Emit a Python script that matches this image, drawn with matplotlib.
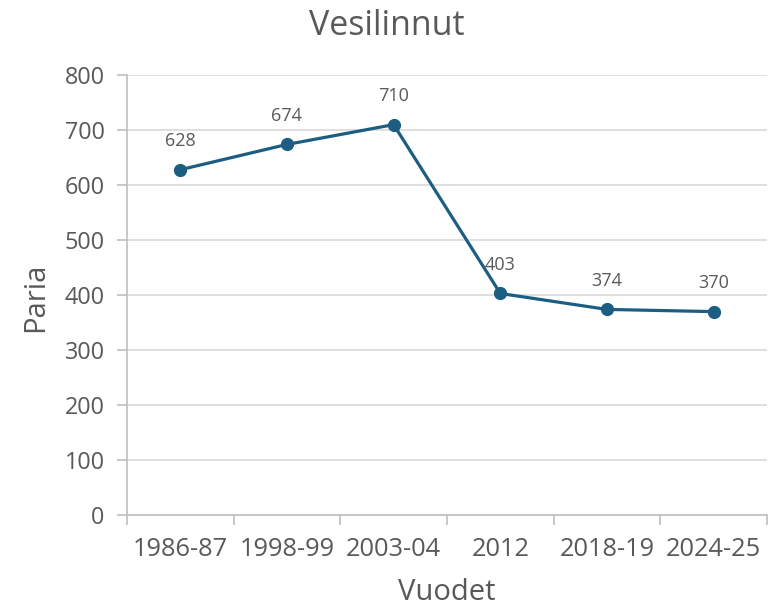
import numpy as np
from matplotlib import pyplot as plt

years = ["1986-87", "1998-99", "2003-04", "2012", "2018-19", "2024-25"]
pairs = [628, 674, 710, 403, 374, 370]

LINE = "#1B5E82"
TXT = "#595959"
GRID = "#D9D9D9"

plt.rcParams['font.family'] = ['Open Sans', 'DejaVu Sans']

fig = plt.figure(figsize=(7.74, 6.06), dpi=100)
ax = fig.add_axes([0.164, 0.150, 0.827, 0.726])

x = np.arange(len(years))
ax.plot(x, pairs, color=LINE, lw=2.3, marker="o", ms=8.5, zorder=3)
for xi, v in zip(x, pairs):
    ax.annotate(str(v), (xi, v), xytext=(0, 20.5), textcoords="offset points",
                ha="center", va="center", fontsize=13, color=TXT)

ax.set_xlim(-0.5, len(years) - 0.5)
ax.set_ylim(0, 800)
ax.set_yticks(range(0, 801, 100))
ax.grid(axis="y", color=GRID, lw=1.2)
ax.set_axisbelow(True)

# category labels on minor ticks, tick marks between categories
ax.set_xticks(np.arange(-0.5, len(years), 1.0))
ax.set_xticklabels([])
ax.set_xticks(x, minor=True)
ax.set_xticklabels(years, minor=True)
ax.tick_params(axis="x", which="major", length=7, color="#BFBFBF", width=1.2)
ax.tick_params(axis="x", which="minor", length=0, pad=16, labelsize=18.3, labelcolor=TXT)
ax.tick_params(axis="y", length=7, color="#BFBFBF", width=1.2, pad=9, labelsize=16.8, labelcolor=TXT)

for s in ["top", "right"]:
    ax.spines[s].set_visible(False)
for s in ["left", "bottom"]:
    ax.spines[s].set_color("#BFBFBF")
    ax.spines[s].set_linewidth(1.2)

fig.text(0.5, 1 - 35 / 606, "Vesilinnut", fontsize=24.5, color=TXT, ha="center", va="baseline")
fig.text(447 / 774, 1 - 600 / 606, "Vuodet", fontsize=21, color=TXT, ha="center", va="baseline")
fig.text(36 / 774, 1 - 297 / 606, "Paria", fontsize=21, color=TXT, ha="center", va="center", rotation=90)

fig.savefig("out.png", dpi=100)
